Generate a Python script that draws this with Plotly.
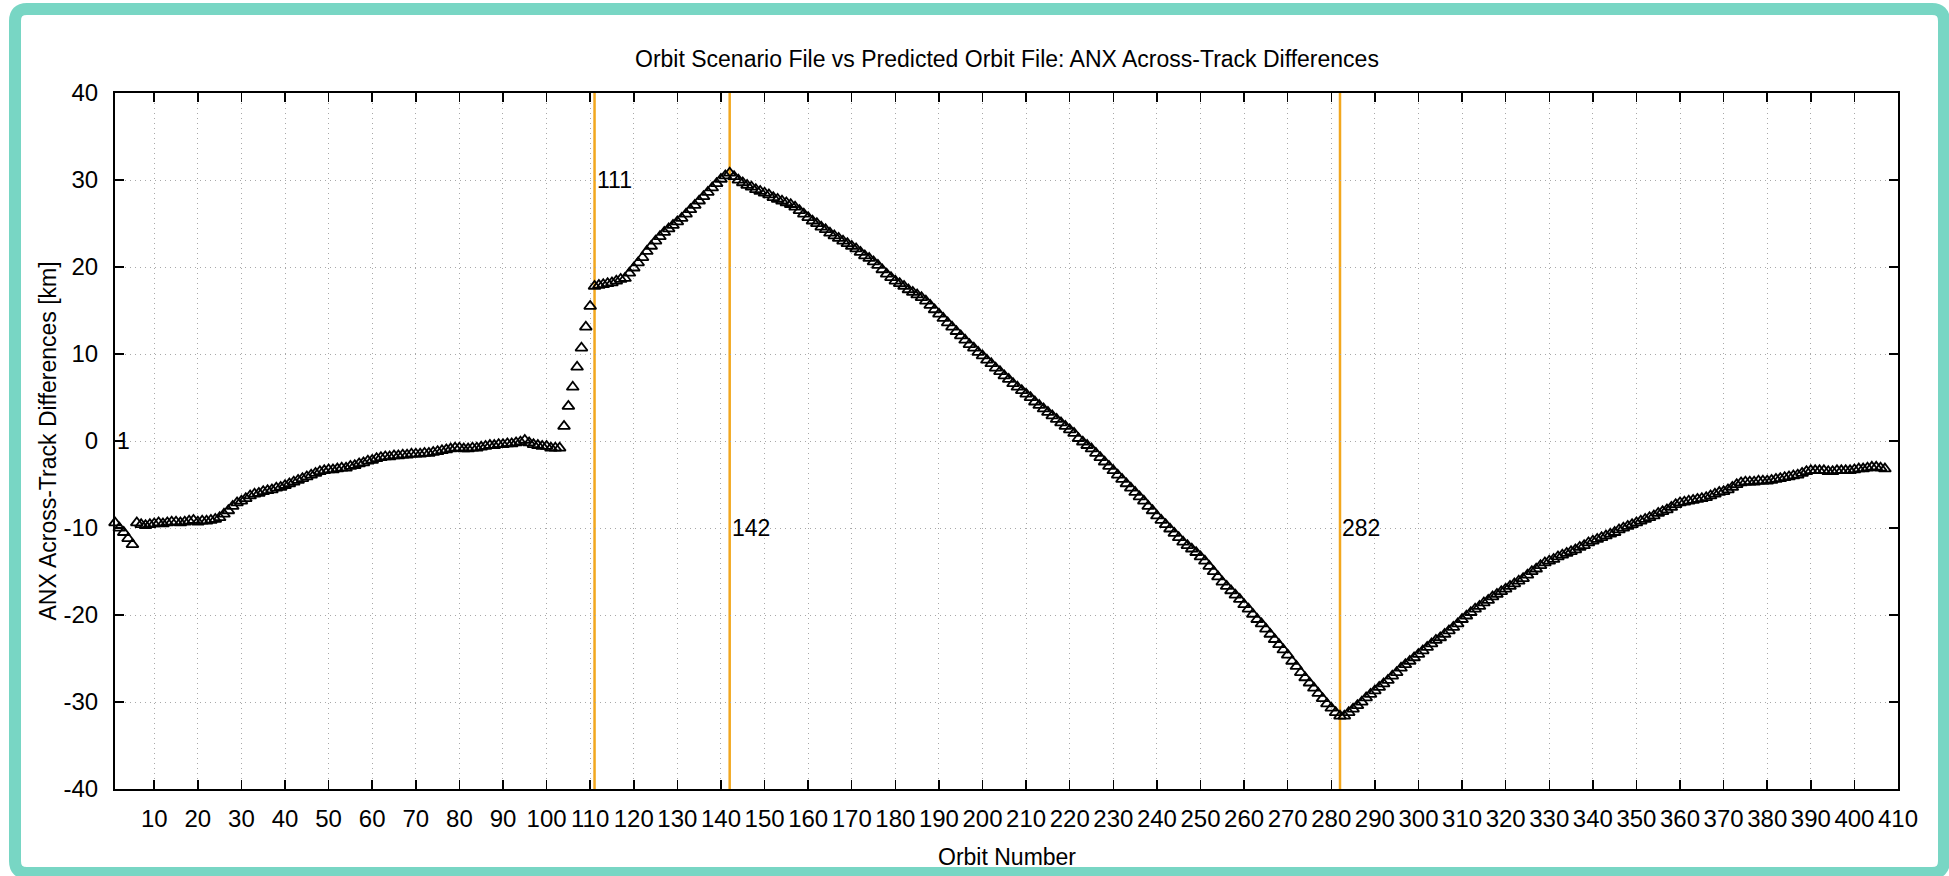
import plotly.graph_objects as go

# ---------------- data ----------------
diff_orbits_1_5 = [-9.4, -10.0, -10.5, -11.2, -11.9]
diff_orbits_6_103 = [
    -9.4, -9.6, -9.7, -9.6, -9.5, -9.4, -9.5, -9.4, -9.3, -9.3,
    -9.4, -9.3, -9.2, -9.1, -9.3, -9.2, -9.2, -9.1, -9.0, -8.8,
    -8.4, -8.0, -7.5, -7.1, -6.9, -6.6, -6.3, -6.1, -6.0, -5.8,
    -5.7, -5.6, -5.4, -5.3, -5.1, -4.9, -4.7, -4.5, -4.3, -4.1,
    -3.9, -3.7, -3.5, -3.4, -3.3, -3.3, -3.2, -3.1, -3.1, -2.9,
    -2.8, -2.6, -2.5, -2.3, -2.2, -2.0, -1.9, -1.8, -1.8, -1.7,
    -1.7, -1.6, -1.6, -1.5, -1.5, -1.5, -1.4, -1.4, -1.3, -1.2,
    -1.1, -1.0, -0.9, -0.8, -0.8, -0.9, -0.9, -0.8, -0.8, -0.7,
    -0.6, -0.5, -0.5, -0.4, -0.4, -0.3, -0.3, -0.2, -0.1, 0.1,
    -0.2, -0.4, -0.5, -0.6, -0.6, -0.8, -0.8, -0.8,
]
diff_orbits_104_111 = [1.7, 4.0, 6.2, 8.5, 10.7, 13.1, 15.5, 17.8]
diff_orbits_112_142 = [
    17.9, 18.0, 18.1, 18.2, 18.4, 18.6, 18.7, 19.3, 19.9, 20.5,
    21.1, 21.8, 22.4, 23.0, 23.5, 24.0, 24.4, 24.8, 25.2, 25.6,
    26.1, 26.6, 27.1, 27.6, 28.1, 28.6, 29.1, 29.6, 30.1, 30.5, 30.8,
]
diff_orbits_143_282 = [
    30.4, 30.0, 29.7, 29.4, 29.2, 28.9, 28.7, 28.5, 28.3, 28.0,
    27.8, 27.6, 27.4, 27.2, 26.9, 26.5, 26.1, 25.7, 25.3, 25.0,
    24.6, 24.3, 23.9, 23.6, 23.3, 23.0, 22.7, 22.4, 22.1, 21.7,
    21.3, 21.0, 20.6, 20.2, 19.7, 19.2, 18.8, 18.4, 18.1, 17.8,
    17.4, 17.1, 16.8, 16.5, 16.1, 15.6, 15.1, 14.6, 14.1, 13.6,
    13.1, 12.6, 12.1, 11.6, 11.1, 10.7, 10.2, 9.8, 9.3, 8.9,
    8.4, 8.0, 7.5, 7.1, 6.6, 6.2, 5.8, 5.4, 5.0, 4.5,
    4.1, 3.7, 3.3, 2.9, 2.5, 2.1, 1.7, 1.3, 0.9, 0.3,
    -0.1, -0.5, -0.9, -1.4, -1.9, -2.4, -2.9, -3.4, -3.9, -4.4,
    -4.9, -5.4, -5.9, -6.4, -6.9, -7.5, -8.0, -8.6, -9.1, -9.6,
    -10.1, -10.6, -11.1, -11.6, -12.0, -12.4, -12.8, -13.3, -13.8, -14.4,
    -15.0, -15.6, -16.2, -16.7, -17.2, -17.7, -18.2, -18.8, -19.3, -19.9,
    -20.5, -21.0, -21.6, -22.2, -22.8, -23.4, -24.0, -24.6, -25.3, -25.9,
    -26.6, -27.2, -27.8, -28.4, -29.0, -29.6, -30.2, -30.7, -31.2, -31.6,
]
diff_orbits_283_407 = [
    -31.6, -31.2, -30.8, -30.4, -30.0, -29.5, -29.1, -28.7, -28.3, -27.9,
    -27.5, -27.0, -26.6, -26.1, -25.7, -25.3, -24.9, -24.5, -24.1, -23.7,
    -23.3, -22.9, -22.6, -22.2, -21.8, -21.4, -21.0, -20.5, -20.1, -19.7,
    -19.3, -19.0, -18.6, -18.3, -17.9, -17.6, -17.3, -17.0, -16.7, -16.4,
    -16.1, -15.8, -15.4, -15.0, -14.7, -14.3, -14.0, -13.8, -13.6, -13.3,
    -13.1, -12.9, -12.7, -12.5, -12.2, -12.0, -11.7, -11.5, -11.3, -11.1,
    -10.9, -10.7, -10.5, -10.2, -10.0, -9.8, -9.6, -9.4, -9.2, -9.0,
    -8.8, -8.6, -8.3, -8.1, -7.9, -7.6, -7.3, -7.1, -7.0, -6.9,
    -6.8, -6.7, -6.6, -6.5, -6.3, -6.1, -5.9, -5.8, -5.6, -5.3,
    -5.0, -4.8, -4.7, -4.7, -4.7, -4.6, -4.6, -4.6, -4.5, -4.4,
    -4.3, -4.2, -4.1, -4.0, -3.9, -3.7, -3.5, -3.4, -3.4, -3.4,
    -3.4, -3.5, -3.5, -3.4, -3.4, -3.4, -3.4, -3.3, -3.2, -3.2,
    -3.1, -3.0, -3.0, -3.1, -3.2,
]

anx_diff_km = (diff_orbits_1_5 + diff_orbits_6_103 + diff_orbits_104_111
               + diff_orbits_112_142 + diff_orbits_143_282 + diff_orbits_283_407)
orbit_numbers = list(range(1, len(anx_diff_km) + 1))

event_orbits = [1, 111, 142, 282]
event_label_y = [0, 30, -10, -10]
event_labels = ["1", "111", "142", "282"]

x_range = [1, 410]
y_range = [-40, 40]
x_tick_values = [10, 20, 30, 40, 50, 60, 70, 80, 90, 100, 110, 120, 130, 140, 150,
                 160, 170, 180, 190, 200, 210, 220, 230, 240, 250, 260, 270, 280,
                 290, 300, 310, 320, 330, 340, 350, 360, 370, 380, 390, 400, 410]
y_tick_values = [-40, -30, -20, -10, 0, 10, 20, 30, 40]
y_tick_labels = ["-40", "-30", "-20", "-10", "0", "10", "20", "30", "40"]

title_text = "Orbit Scenario File vs Predicted Orbit File: ANX Across-Track Differences"
x_title = "Orbit Number"
y_title = "ANX Across-Track Differences [km]"

# ---------------- layout geometry (pixels) ----------------
W, H = 1949, 876
L, R, T, B = 115, 1898, 93, 789
FONT = "Liberation Sans, Arial, Helvetica, sans-serif"
FS = 23
TICK_FS = 24
ORANGE = "#f2a71e"
TEAL = "#78d6c4"


def px_x(p):
    return (p - L) / (R - L)


def px_y(p):
    return (B - p) / (B - T)


fig = go.Figure()
fig.add_trace(go.Scatter(
    x=orbit_numbers, y=anx_diff_km, mode="markers",
    marker=dict(symbol="triangle-up-open", size=10.5, color="black",
                line=dict(color="black", width=1.8)),
    cliponaxis=False, showlegend=False, hoverinfo="skip",
))

shapes = []
for o in event_orbits:
    if o > x_range[0]:
        shapes.append(dict(type="line", xref="x", yref="paper", x0=o, x1=o, y0=0, y1=1,
                           line=dict(color=ORANGE, width=2.5), layer="between"))

# rounded teal frame around the picture
x0, x1 = px_x(15), px_x(1944)
y0, y1 = px_y(9), px_y(873)
rad = 12
rx, ry = rad / (R - L), rad / (B - T)
path = (f"M {x0+rx},{y0} L {x1-rx},{y0} Q {x1},{y0} {x1},{y0-ry} "
        f"L {x1},{y1+ry} Q {x1},{y1} {x1-rx},{y1} "
        f"L {x0+rx},{y1} Q {x0},{y1} {x0},{y1+ry} "
        f"L {x0},{y0-ry} Q {x0},{y0} {x0+rx},{y0} Z")
shapes.append(dict(type="path", xref="paper", yref="paper", path=path,
                   line=dict(color=TEAL, width=12), layer="above"))

annotations = []
for o, yv, t in zip(event_orbits, event_label_y, event_labels):
    annotations.append(dict(x=o, y=yv, xref="x", yref="y", text=t, showarrow=False,
                            xanchor="left", yanchor="middle",
                            font=dict(family=FONT, size=FS, color="black")))
annotations.append(dict(x=0.5, y=px_y(58.5), xref="paper", yref="paper", text=title_text,
                        showarrow=False, xanchor="center", yanchor="middle",
                        font=dict(family=FONT, size=FS, color="black")))
annotations.append(dict(x=0.5, y=px_y(857), xref="paper", yref="paper", text=x_title,
                        showarrow=False, xanchor="center", yanchor="middle",
                        font=dict(family=FONT, size=FS, color="black")))
annotations.append(dict(x=px_x(47.5), y=0.5, xref="paper", yref="paper", text=y_title,
                        showarrow=False, xanchor="center", yanchor="middle", textangle=-90,
                        font=dict(family=FONT, size=FS, color="black")))

axis_common = dict(
    showline=True, linecolor="black", linewidth=2, mirror="ticks",
    ticks="inside", ticklen=9, tickwidth=1.5, tickcolor="black",
    showgrid=True, gridcolor="#a8a8a8", gridwidth=1, griddash="1px,4px",
    zeroline=False,
    tickfont=dict(family=FONT, size=TICK_FS, color="black"),
)

fig.update_layout(
    width=W, height=H,
    margin=dict(l=L, r=W - R, t=T, b=H - B, pad=0),
    paper_bgcolor="white", plot_bgcolor="white",
    xaxis=dict(range=x_range, tickmode="array", tickvals=x_tick_values,
               ticktext=[str(v) for v in x_tick_values], ticklabelstandoff=7, **axis_common),
    yaxis=dict(range=y_range, tickmode="array", tickvals=y_tick_values,
               ticktext=y_tick_labels, ticklabelstandoff=10, **axis_common),
    shapes=shapes, annotations=annotations,
    showlegend=False,
)

fig.write_html(
    "out.html",
    config={"displayModeBar": False, "staticPlot": True},
    post_script="document.body.style.margin='0';document.body.style.overflow='hidden';",
)
